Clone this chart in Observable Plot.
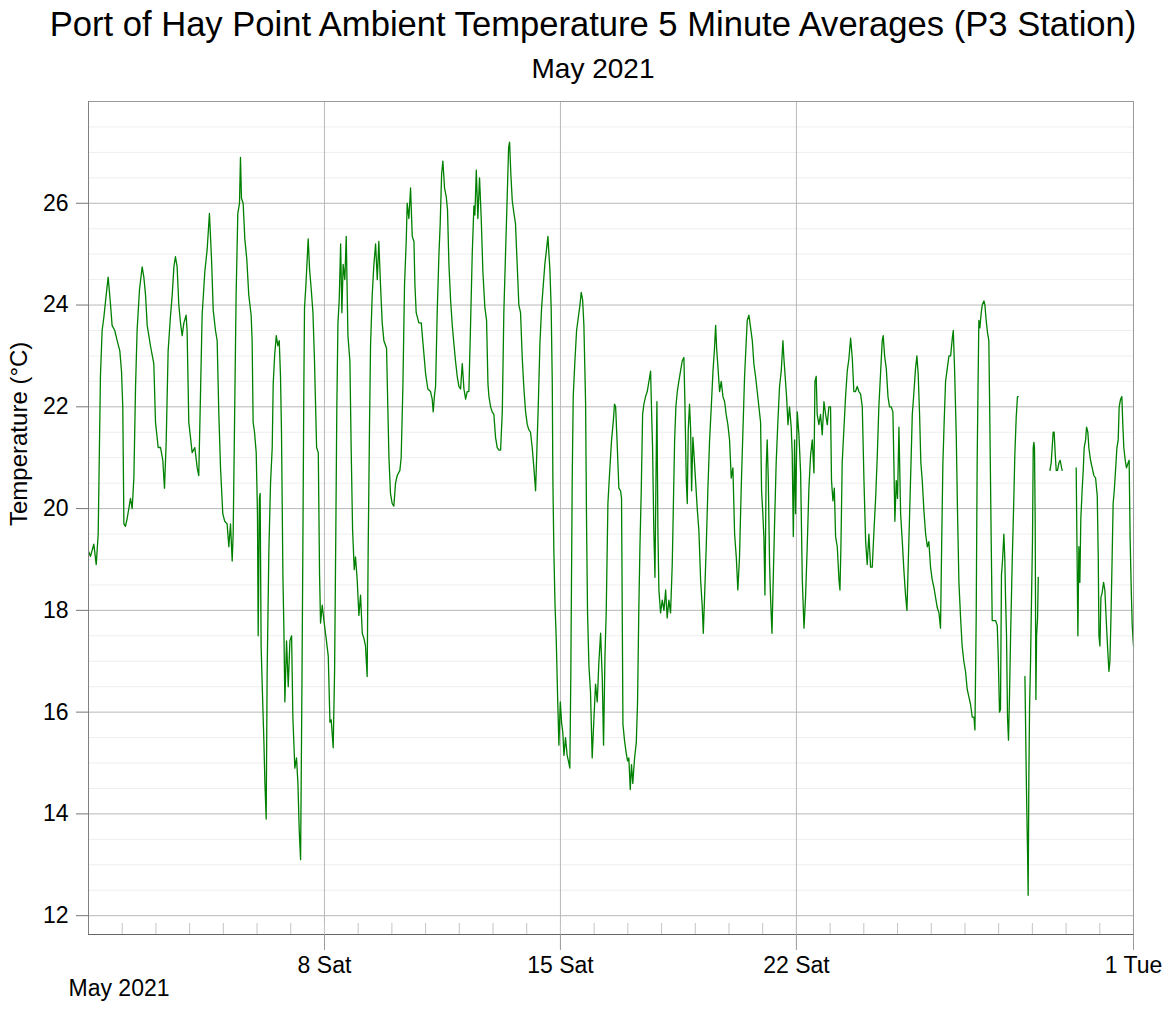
<!DOCTYPE html>
<html>
<head>
<meta charset="utf-8">
<script src="https://cdn.jsdelivr.net/npm/d3@7"></script>
<script src="https://cdn.jsdelivr.net/npm/@observablehq/plot@0.6"></script>
<style>
  html, body { margin: 0; padding: 0; background: #fff; }
  body { width: 1172px; height: 1010px; overflow: hidden; font-family: "Liberation Sans", Arial, sans-serif; color: #000; }
  #title { font-size: 34.6px; line-height: 40px; height: 40px; margin-top: 4px; text-align: center; padding-left: 14px; white-space: nowrap; }
  #subtitle { font-size: 28px; line-height: 34px; height: 34px; margin-top: 8px; text-align: center; padding-left: 14px; }
  #chart svg { display: block; }
</style>
</head>
<body>
<div id="title">Port of Hay Point Ambient Temperature 5 Minute Averages (P3 Station)</div>
<div id="subtitle">May 2021</div>
<div id="chart"></div>
<script>
// Readings: [hours since 2021-05-01 00:00, temperature °C]; null marks a gap in the record
const week1 = [[0.2,19.15],[1.4,19.06],[3.8,19.3],[5.5,18.9],[6.9,19.5],[8.5,22.6],[9.7,23.5],[10.9,23.75],[12.6,24.2],[14.0,24.55],[15.7,24.0],[16.8,23.6],[18.7,23.5],[20.4,23.3],[22.3,23.1],[23.5,22.7],[24.4,22.0],[25.2,19.7],[26.3,19.65],[27.5,19.8],[29.9,20.2],[31.1,20.0],[32.3,20.6],[33.5,22.4],[34.6,23.5],[36.3,24.3],[38.2,24.75],[39.4,24.55],[40.6,24.2],[41.8,23.6],[44.1,23.2],[46.5,22.85],[47.7,21.7],[49.6,21.2],[51.3,21.2],[52.9,20.95],[54.1,20.4],[55.3,21.3],[56.7,23.1],[58.4,23.8],[59.6,24.2],[60.8,24.75],[61.9,24.95],[63.1,24.75],[64.3,24.0],[65.5,23.65],[66.7,23.4],[67.9,23.65],[69.5,23.8],[70.2,23.5],[71.4,21.7],[72.6,21.4],[73.8,21.1],[75.7,21.2],[77.4,20.8],[78.5,20.65],[79.7,22.2],[80.9,23.8],[82.8,24.65],[84.5,25.1],[86.1,25.8],[87.6,24.9],[88.8,23.9],[90.4,23.5],[91.6,23.3],[92.8,21.85],[94.0,20.8],[95.6,19.9],[97.0,19.75],[98.7,19.7],[99.9,19.25],[101.1,19.7],[102.3,18.97],[103.0,19.5],[104.2,22.2],[105.1,24.2],[106.3,25.8],[107.5,26.0],[108.2,26.9],[108.9,26.1],[110.1,26.0],[111.3,25.3],[112.7,24.9],[114.1,24.2],[115.8,23.8],[116.5,23.3],[117.2,21.7],[118.2,21.5],[119.4,21.1],[120.3,19.9],[120.8,17.5],[121.7,20.2],[122.2,20.3],[122.9,17.3],[123.7,16.5],[124.9,15.4],[125.6,14.6],[126.5,13.9],[127.2,16.8],[128.4,19.15],[129.6,20.5],[130.8,21.2],[131.5,22.45],[132.5,23.0],[133.7,23.4],[134.8,23.2],[135.8,23.3],[136.7,22.6],[137.4,21.5],[138.4,18.7],[139.1,17.65],[139.8,16.2],[141.0,17.4],[142.2,16.5],[143.4,17.4],[144.6,17.5],[145.5,15.9],[146.9,14.9],[148.1,15.1],[149.1,14.6],[150.0,13.7],[151.0,13.1],[151.9,16.3],[152.6,19.15],[153.3,22.35],[153.8,23.95],[154.8,24.4],[155.7,24.9],[156.4,25.3],[157.4,24.7],[158.6,24.3],[159.8,23.85],[160.9,22.9],[162.4,21.2],[163.6,21.1],[164.5,18.7],[165.2,17.75],[166.4,18.1],[167.6,17.8]];
const week2 = [[169.2,17.45],[170.7,17.1],[171.9,15.8],[172.8,15.85],[174.2,15.3],[175.2,16.8],[176.1,19.6],[176.8,22.0],[177.6,23.65],[178.5,24.1],[179.5,25.2],[180.4,23.85],[181.3,24.8],[182.5,24.5],[183.5,25.35],[184.7,23.4],[186.1,22.9],[187.0,21.2],[188.0,19.6],[189.2,18.8],[190.1,19.05],[191.3,18.6],[192.5,17.9],[193.7,18.3],[194.9,17.55],[196.1,17.45],[197.2,17.3],[198.4,16.7],[199.1,19.15],[200.1,21.7],[200.8,23.2],[202.0,24.2],[203.2,24.8],[204.4,25.2],[205.6,24.5],[206.7,25.25],[207.9,24.4],[209.1,23.65],[210.3,23.3],[212.2,23.15],[213.1,22.0],[213.9,21.0],[215.0,20.3],[216.2,20.1],[217.4,20.05],[218.6,20.5],[219.8,20.65],[221.7,20.75],[222.6,21.0],[223.8,22.35],[225.0,24.4],[226.2,25.25],[226.9,26.0],[228.1,25.7],[229.3,26.3],[230.5,25.35],[231.7,25.25],[232.4,24.4],[233.3,23.85],[235.2,23.65],[236.9,23.65],[238.3,23.2],[240.0,22.65],[241.6,22.35],[243.5,22.3],[244.7,22.15],[245.4,21.9],[246.4,22.25],[247.1,22.4],[248.3,23.9],[249.5,25.0],[250.4,25.6],[251.4,26.57],[252.3,26.83],[253.5,26.3],[254.7,26.13],[255.6,25.87],[256.6,24.8],[257.8,24.1],[259.0,23.6],[260.1,23.25],[261.3,22.9],[262.5,22.6],[263.7,22.4],[264.9,22.35],[266.1,22.85],[267.3,22.35],[268.5,22.15],[269.6,22.3],[270.8,22.3],[272.0,23.6],[273.2,25.0],[274.4,25.95],[275.1,25.77],[276.1,26.65],[277.2,25.7],[278.4,26.5],[279.6,25.7],[280.8,24.65],[282.2,23.95],[283.4,23.7],[284.4,22.45],[285.1,22.2],[286.3,22.0],[287.4,21.9],[288.6,21.85],[289.8,21.4],[291.0,21.2],[292.2,21.15],[293.4,21.15],[294.6,21.9],[295.7,23.85],[296.9,25.0],[298.1,26.13],[299.1,27.1],[299.8,27.2],[300.7,26.57],[301.7,26.05],[302.9,25.8],[304.0,25.6],[305.2,24.8],[306.4,24.0],[307.6,23.85],[308.8,22.97],[310.0,22.35],[311.2,21.9],[312.4,21.65],[313.5,21.55],[314.7,21.5],[315.9,21.2],[317.1,20.8],[318.3,20.35],[319.0,20.95],[320.2,22.0],[321.4,23.25],[322.6,23.95],[323.8,24.4],[324.9,24.8],[326.1,25.1],[327.1,25.35],[327.8,25.0],[328.5,24.7],[329.4,23.95],[330.2,22.45],[330.6,20.6],[331.3,19.2],[332.1,18.15],[333.0,17.45],[334.0,16.3],[334.9,15.35],[335.9,16.2]];
const week3 = [[336.8,15.8],[337.7,15.6],[338.5,15.15],[339.6,15.5],[340.8,15.15],[342.0,15.0],[342.7,14.9],[343.4,16.75],[344.4,20.6],[345.1,22.2],[346.3,22.9],[347.5,23.5],[348.7,23.75],[349.9,24.0],[350.8,24.25],[351.8,24.1],[352.7,23.6],[353.9,22.1],[354.6,19.7],[355.3,17.95],[356.3,16.9],[357.4,16.4],[358.6,15.1],[359.8,15.85],[361.0,16.55],[362.2,16.2],[363.4,17.0],[364.6,17.55],[365.8,16.65],[366.7,15.35],[367.7,17.1],[368.6,17.97],[369.8,20.1],[371.0,20.7],[372.4,21.35],[373.6,21.7],[374.5,22.05],[375.3,22.0],[376.4,21.27],[377.6,20.4],[378.8,20.35],[379.5,20.2],[380.5,15.76],[381.6,15.45],[382.8,15.2],[383.8,15.04],[384.7,15.1],[385.7,14.48],[386.6,14.97],[387.5,14.6],[388.8,15.1],[390.0,15.4],[390.9,16.2],[391.8,18.0],[392.6,19.25],[393.5,20.3],[394.5,21.85],[395.4,22.05],[396.6,22.2],[397.8,22.3],[399.0,22.5],[400.2,22.7],[400.9,21.9],[401.6,21.2],[402.5,19.55],[403.3,18.65],[404.0,20.55],[404.7,22.1],[405.4,19.55],[406.1,18.4],[407.3,17.95],[408.5,18.2],[409.7,18.0],[410.9,18.4],[412.0,17.85],[413.2,18.2],[414.4,17.95],[415.6,18.9],[416.3,19.9],[417.3,21.35],[418.2,22.0],[419.2,22.3],[420.3,22.5],[421.5,22.7],[422.7,22.9],[423.9,22.97],[424.6,22.1],[425.6,20.55],[426.3,20.1],[427.0,21.55],[427.9,22.05],[428.7,21.55],[429.4,20.35],[430.3,21.4],[431.0,21.1],[432.2,20.55],[433.4,20.0],[434.6,19.55],[435.8,18.6],[437.0,18.05],[437.7,17.55],[438.6,18.25],[439.8,19.25],[441.0,20.4],[442.2,21.35],[443.4,22.0],[444.6,22.7],[445.7,23.15],[446.5,23.6],[447.2,23.15],[448.1,22.8],[449.3,22.3],[450.5,22.5],[451.7,22.2],[452.9,22.1],[454.0,21.85],[455.2,21.65],[456.4,21.35],[457.6,20.6],[458.8,20.8],[460.0,19.5],[461.2,19.05],[462.3,18.4],[463.5,19.05],[464.7,20.4],[465.9,21.5],[467.1,22.6],[468.3,23.3],[469.0,23.7],[470.2,23.8],[471.4,23.55],[472.6,23.3],[473.7,22.85],[474.9,22.6],[476.1,22.3],[477.3,22.0],[478.5,21.7],[479.2,20.35],[480.1,19.9],[480.9,19.4],[481.6,18.3],[482.5,20.8],[483.2,21.35],[484.0,20.55],[484.9,18.9],[485.6,18.25],[486.6,17.55],[487.5,18.6],[488.5,19.75],[489.6,20.9],[490.8,21.7],[492.0,22.4],[493.2,22.7],[494.4,23.3],[495.1,22.95],[497.0,22.2],[498.0,21.65],[499.1,22.0],[500.3,21.6],[501.0,21.1],[501.8,19.45],[502.7,21.35],[503.4,19.9]];
const week4 = [[504.6,21.9],[505.8,21.45],[507.0,20.7],[508.2,18.6],[509.4,17.65],[510.5,18.25],[511.7,19.25],[512.9,20.4],[514.1,21.05],[515.3,21.35],[516.5,20.7],[517.2,22.5],[518.1,22.6],[518.8,21.85],[520.0,21.65],[521.2,21.85],[522.4,21.45],[523.6,22.1],[524.8,21.85],[526.0,21.65],[527.1,22.0],[528.3,22.0],[529.0,20.55],[530.0,20.15],[531.0,20.4],[531.9,19.45],[533.1,19.25],[534.3,18.6],[535.0,18.4],[535.7,19.25],[536.6,20.9],[537.8,21.55],[539.0,22.2],[540.2,22.7],[541.4,22.95],[542.6,23.35],[543.8,22.95],[544.9,22.3],[546.1,22.3],[547.3,22.4],[548.5,22.3],[549.7,22.25],[550.9,22.0],[552.1,20.55],[553.3,19.35],[554.4,18.9],[555.6,19.5],[556.8,18.85],[558.0,18.85],[559.2,19.55],[560.4,20.2],[561.6,21.05],[562.7,22.0],[563.9,22.65],[565.1,23.3],[565.8,23.4],[566.8,23.0],[568.0,22.75],[569.2,22.2],[570.3,22.0],[571.5,22.0],[572.7,21.9],[573.4,20.9],[574.1,19.75],[575.1,20.55],[576.0,20.2],[577.0,21.6],[578.2,19.9],[579.4,19.35],[580.5,18.8],[581.7,18.3],[582.7,18.0],[583.6,18.9],[584.6,19.9],[585.5,20.8],[586.5,21.85],[587.7,22.3],[588.8,22.75],[589.8,23.0],[590.7,22.65],[591.7,21.85],[592.6,20.9],[593.6,20.55],[594.8,19.95],[596.0,19.5],[597.2,19.25],[598.3,19.35],[599.5,18.85],[600.7,18.6],[601.9,18.45],[603.1,18.25],[604.3,18.05],[605.5,17.95],[606.6,17.65],[607.4,19.25],[608.3,20.9],[609.2,21.7],[610.2,22.5],[611.4,22.75],[612.6,23.0],[613.8,23.0],[615.0,23.35],[615.7,23.5],[616.6,22.75],[617.8,21.45],[618.7,19.95],[619.7,18.55],[620.9,17.85],[622.0,17.3],[623.2,17.0],[624.4,16.8],[625.6,16.45],[626.8,16.3],[628.0,16.15],[629.2,15.9],[630.4,15.9],[631.1,15.65],[632.0,17.85],[632.7,20.95],[633.4,22.6],[633.9,23.7],[634.6,23.55],[635.6,23.85],[636.3,24.0],[637.5,24.08],[638.2,24.0],[639.1,23.7],[640.1,23.45],[641.0,23.3],[641.7,21.75],[642.7,19.35],[643.4,17.8],[644.6,17.8],[645.8,17.8],[647.0,17.7],[647.7,17.1],[648.6,16.0],[649.3,16.05],[650.0,18.7],[650.8,19.0],[651.7,19.5],[652.4,19.0],[652.9,18.25],[653.6,17.5],[654.3,15.9],[655.0,15.45],[655.7,16.3],[656.5,17.5],[657.6,18.9],[658.8,20.2],[659.5,21.05],[660.5,21.8],[661.4,22.2],[661.9,22.2],[664.0,null],[666.7,16.7],[667.1,15.9],[667.6,14.85],[668.1,13.98],[668.6,13.2],[669.0,12.4],[669.5,14.7],[670.0,16.1],[670.7,17.0],[671.4,18.25]];
const week5 = [[672.1,19.4],[672.6,21.2],[673.1,21.3],[673.5,21.2],[674.0,19.8],[674.5,16.25],[675.0,17.5],[675.7,17.85],[676.2,18.65],[680.0,null],[684.5,20.75],[685.4,20.9],[686.1,21.2],[686.8,21.5],[687.5,21.5],[688.3,21.05],[689.0,20.75],[689.9,20.75],[690.9,20.9],[691.8,20.95],[692.8,20.8],[693.2,20.75],[698.0,null],[703.2,20.8],[704.4,17.5],[705.1,19.25],[705.8,18.55],[706.5,19.8],[707.5,20.4],[708.2,20.75],[708.9,21.2],[709.9,21.35],[710.6,21.6],[711.5,21.5],[712.2,21.2],[713.4,20.95],[714.6,20.8],[715.8,20.65],[717.0,20.6],[718.2,20.25],[718.9,19.05],[719.4,17.5],[720.1,17.3],[720.8,18.25],[721.7,18.35],[722.7,18.55],[723.6,18.4],[724.6,17.8],[725.5,17.3],[726.5,16.8],[727.2,17.0],[727.9,17.8],[728.8,19.05],[729.5,20.1],[730.3,20.35],[731.2,20.75],[732.2,21.2],[733.1,21.35],[733.8,22.0],[734.8,22.15],[735.7,22.2],[736.4,21.65],[737.1,21.2],[738.1,20.95],[739.0,20.8],[740.2,20.9],[740.9,20.95],[741.6,19.4],[742.4,18.4],[743.1,17.7],[744.0,17.3]];

const yTickValues = [12, 14, 16, 18, 20, 22, 24, 26];
const xTickDates = ["2021-05-08", "2021-05-15", "2021-05-22", "2021-06-01"];
const weekGridDates = ["2021-05-08", "2021-05-15", "2021-05-22"];
const periodStart = "2021-05-01";
const periodEnd = "2021-06-01";
const yDomain = [11.63, 28];

const t0 = new Date(periodStart + "T00:00:00Z").getTime();
const toDate = s => new Date(s + "T00:00:00Z");
const readings = [...week1, ...week2, ...week3, ...week4, ...week5]
  .map(([h, t]) => ({date: new Date(t0 + h * 3600e3), temp: t}));

const minorY = d3.range(12, 28.01, 0.5).filter(v => v % 2 !== 0);
const dailyTicks = d3.utcDay.range(toDate(periodStart), d3.utcDay.offset(toDate(periodEnd), 1));

const plotH = 924, mTop = 15, mBottom = 76;
const innerH = plotH - mTop - mBottom;

const chart = Plot.plot({
  width: 1172,
  height: plotH,
  marginLeft: 88,
  marginRight: 39,
  marginTop: mTop,
  marginBottom: mBottom,
  style: {fontFamily: '"Liberation Sans", Arial, sans-serif', fontSize: "23px", color: "#000", background: "#fff", overflow: "visible"},
  x: {type: "utc", domain: [toDate(periodStart), toDate(periodEnd)]},
  y: {domain: yDomain},
  marks: [
    Plot.ruleY(minorY, {stroke: "#eeeeee", strokeWidth: 1}),
    Plot.ruleY(yTickValues, {stroke: "#b8b8b8", strokeWidth: 1}),
    Plot.ruleX(weekGridDates.map(toDate), {stroke: "#b8b8b8", strokeWidth: 1}),
    Plot.ruleX(dailyTicks, {stroke: "#c4c4c4", strokeWidth: 1, insetTop: innerH - 11}),
    Plot.line(readings, {x: "date", y: "temp", stroke: "#008000", strokeWidth: 1.3}),
    Plot.frame({stroke: "#9a9a9a"}),
    Plot.frame({anchor: "left", stroke: "#808080"}),
    Plot.frame({anchor: "bottom", stroke: "#666666"}),
    Plot.axisY({ticks: yTickValues, tickSize: 12, tickPadding: 8, label: null, stroke: "#777", tickFormat: d => d}),
    Plot.axisX({ticks: xTickDates.map(toDate), tickSize: 16, tickPadding: 6, label: null, stroke: "#999", tickFormat: d3.utcFormat("%-d %a")}),
    Plot.text(["Temperature (°C)"], {frameAnchor: "left", rotate: -90, dx: -69, dy: 8, fontSize: 24, fill: "#000"}),
    Plot.text(["May 2021"], {frameAnchor: "bottom-left", textAnchor: "start", dx: -20, dy: 61, fontSize: 23, fill: "#000"})
  ]
});
document.getElementById("chart").appendChild(chart);
</script>
</body>
</html>
